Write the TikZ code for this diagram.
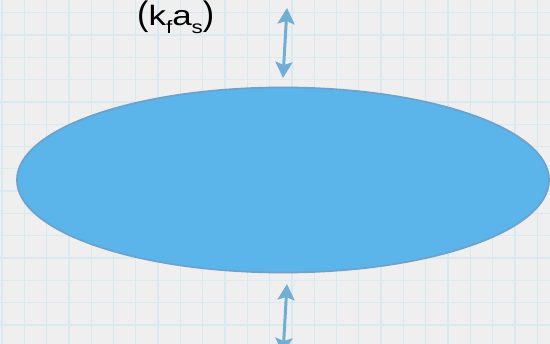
\documentclass[tikz,border=0pt]{standalone}
\usepackage{fontspec}
\setmainfont{Liberation Sans}
\usepackage{xcolor}
\usetikzlibrary{arrows.meta, shapes.geometric}
\definecolor{papercolor}{RGB}{239, 239, 239}
\definecolor{gridcolor}{RGB}{217, 233, 240}
\definecolor{cellfill}{RGB}{91, 181, 234}
\definecolor{celldraw}{RGB}{108, 163, 204}
\definecolor{fluxcolor}{RGB}{113, 174, 214}
\newcommand{\coefparen}[1]{{\fontsize{34}{34}\selectfont #1}}
\newcommand{\coefsub}[1]{\raisebox{-8pt}{\fontsize{18}{18}\selectfont #1}}

\begin{document}
\begin{tikzpicture}[
    x=1pt, y=-1pt,
    gridline/.style={draw=gridcolor, line width=1.3pt},
    blob/.style={ellipse, fill=cellfill, draw=celldraw, line width=1.8pt, minimum width=532pt, minimum height=185pt, inner sep=0pt},
    flux/.style={{Stealth[length=16pt, width=17pt, inset=3pt]}-{Stealth[length=16pt, width=17pt, inset=3pt]}, line width=3pt, color=fluxcolor}
]
\useasboundingbox (0,0) rectangle (550,344);
\clip (0,0) rectangle (550,344);
\fill[papercolor] (0,0) rectangle (550,344);

% paper grid
\foreach \i in {0,...,24} {
    \draw[gridline] ({2+22.3*\i},0) -- ({2+22.3*\i},344);
}
\foreach \j in {0,...,14} {
    \draw[gridline] (0,{12.7+22.3*\j}) -- (550,{12.7+22.3*\j});
}

\node[blob] (cell) at (283,180) {};

\node[anchor=base west, inner sep=0pt] (coef) at (137,26) {\coefparen{(}\scalebox{1.25}[1]{\fontsize{28}{28}\selectfont k\coefsub{f}a\coefsub{s}}\coefparen{)}};

\coordinate (influx) at (287,8);
\coordinate (influxtip) at (283,78);
\coordinate (outflux) at (287,284);
\coordinate (outfluxtip) at (283,354);

\draw[flux] (influx) -- (influxtip);
\draw[flux] (outflux) -- (outfluxtip);
\end{tikzpicture}
\end{document}
